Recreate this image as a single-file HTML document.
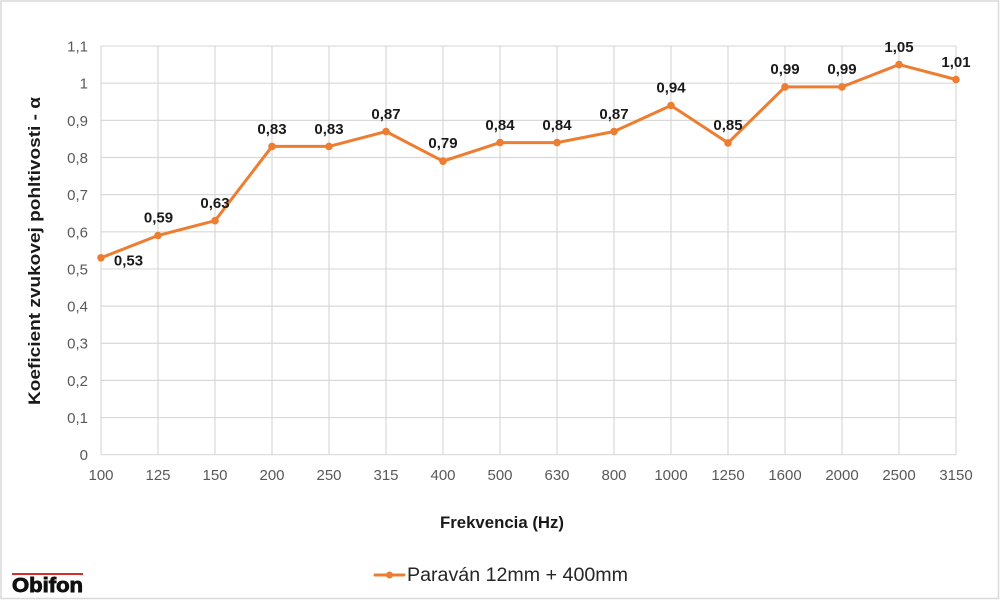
<!DOCTYPE html>
<html>
<head>
<meta charset="utf-8">
<style>
html,body{margin:0;padding:0;background:#fff;}
svg{display:block;}
text{font-family:"Liberation Sans",Arial,sans-serif;}
</style>
</head>
<body>
<svg width="1000" height="600" viewBox="0 0 1000 600" xmlns="http://www.w3.org/2000/svg">
<rect x="0" y="0" width="1000" height="600" fill="#fff"/>
<rect x="1" y="1" width="997.5" height="597.5" fill="none" stroke="#d9d9d9" stroke-width="1.5"/>

<!-- horizontal gridlines -->
<g stroke="#d9d9d9" stroke-width="1.2">
<line x1="101" x2="956" y1="454.7" y2="454.7"/>
<line x1="101" x2="956" y1="417.55" y2="417.55"/>
<line x1="101" x2="956" y1="380.4" y2="380.4"/>
<line x1="101" x2="956" y1="343.25" y2="343.25"/>
<line x1="101" x2="956" y1="306.1" y2="306.1"/>
<line x1="101" x2="956" y1="268.95" y2="268.95"/>
<line x1="101" x2="956" y1="231.8" y2="231.8"/>
<line x1="101" x2="956" y1="194.65" y2="194.65"/>
<line x1="101" x2="956" y1="157.5" y2="157.5"/>
<line x1="101" x2="956" y1="120.35" y2="120.35"/>
<line x1="101" x2="956" y1="83.2" y2="83.2"/>
<line x1="101" x2="956" y1="46.05" y2="46.05"/>
</g>
<!-- vertical gridlines -->
<g stroke="#d9d9d9" stroke-width="1.2">
<line y1="46" y2="455" x1="101" x2="101"/>
<line y1="46" y2="455" x1="158" x2="158"/>
<line y1="46" y2="455" x1="215" x2="215"/>
<line y1="46" y2="455" x1="272" x2="272"/>
<line y1="46" y2="455" x1="329" x2="329"/>
<line y1="46" y2="455" x1="386" x2="386"/>
<line y1="46" y2="455" x1="443" x2="443"/>
<line y1="46" y2="455" x1="500" x2="500"/>
<line y1="46" y2="455" x1="557" x2="557"/>
<line y1="46" y2="455" x1="614" x2="614"/>
<line y1="46" y2="455" x1="671" x2="671"/>
<line y1="46" y2="455" x1="728" x2="728"/>
<line y1="46" y2="455" x1="785" x2="785"/>
<line y1="46" y2="455" x1="842" x2="842"/>
<line y1="46" y2="455" x1="899" x2="899"/>
<line y1="46" y2="455" x1="956" x2="956"/>
</g>

<!-- y tick labels -->
<g fill="#595959" font-size="15" text-anchor="end">
<text x="88" y="460.2">0</text>
<text x="88" y="423">0,1</text>
<text x="88" y="385.9">0,2</text>
<text x="88" y="348.7">0,3</text>
<text x="88" y="311.6">0,4</text>
<text x="88" y="274.4">0,5</text>
<text x="88" y="237.3">0,6</text>
<text x="88" y="200.1">0,7</text>
<text x="88" y="163">0,8</text>
<text x="88" y="125.8">0,9</text>
<text x="88" y="88.7">1</text>
<text x="88" y="51.5">1,1</text>
</g>

<!-- x tick labels -->
<g fill="#595959" font-size="15" text-anchor="middle">
<text x="101" y="480">100</text>
<text x="158" y="480">125</text>
<text x="215" y="480">150</text>
<text x="272" y="480">200</text>
<text x="329" y="480">250</text>
<text x="386" y="480">315</text>
<text x="443" y="480">400</text>
<text x="500" y="480">500</text>
<text x="557" y="480">630</text>
<text x="614" y="480">800</text>
<text x="671" y="480">1000</text>
<text x="728" y="480">1250</text>
<text x="785" y="480">1600</text>
<text x="842" y="480">2000</text>
<text x="899" y="480">2500</text>
<text x="956" y="480">3150</text>
</g>

<!-- axis titles -->
<text x="440" y="528" font-size="17" font-weight="bold" fill="#1a1a1a" textLength="124" lengthAdjust="spacingAndGlyphs">Frekvencia (Hz)</text>
<text transform="translate(40,251) rotate(-90)" x="0" y="0" text-anchor="middle" font-size="16.5" font-weight="bold" fill="#1a1a1a" textLength="308" lengthAdjust="spacingAndGlyphs">Koeficient zvukovej pohltivosti - α</text>

<!-- series -->
<polyline fill="none" stroke="#ED7D31" stroke-width="3" stroke-linejoin="round" stroke-linecap="round"
points="101,257.8 158,235.5 215,220.7 272,146.4 329,146.4 386,131.5 443,161.2 500,142.6 557,142.6 614,131.5 671,105.5 728,142.9 785,86.9 842,86.9 899,64.6 956,79.5"/>
<g fill="#ED7D31">
<circle cx="101" cy="257.8" r="3.8"/>
<circle cx="158" cy="235.5" r="3.8"/>
<circle cx="215" cy="220.7" r="3.8"/>
<circle cx="272" cy="146.4" r="3.8"/>
<circle cx="329" cy="146.4" r="3.8"/>
<circle cx="386" cy="131.5" r="3.8"/>
<circle cx="443" cy="161.2" r="3.8"/>
<circle cx="500" cy="142.6" r="3.8"/>
<circle cx="557" cy="142.6" r="3.8"/>
<circle cx="614" cy="131.5" r="3.8"/>
<circle cx="671" cy="105.5" r="3.8"/>
<circle cx="728" cy="142.9" r="3.8"/>
<circle cx="785" cy="86.9" r="3.8"/>
<circle cx="842" cy="86.9" r="3.8"/>
<circle cx="899" cy="64.6" r="3.8"/>
<circle cx="956" cy="79.5" r="3.8"/>
</g>

<!-- data labels -->
<g fill="#1a1a1a" font-size="15" font-weight="bold" text-anchor="middle">
<text x="128.5" y="265.5">0,53</text>
<text x="158.5" y="222.5">0,59</text>
<text x="215" y="208">0,63</text>
<text x="272" y="134">0,83</text>
<text x="329" y="134">0,83</text>
<text x="386" y="119">0,87</text>
<text x="443" y="148">0,79</text>
<text x="500" y="130">0,84</text>
<text x="557" y="130">0,84</text>
<text x="614" y="119">0,87</text>
<text x="671" y="92.5">0,94</text>
<text x="728" y="130">0,85</text>
<text x="785" y="74">0,99</text>
<text x="842" y="74">0,99</text>
<text x="899" y="52">1,05</text>
<text x="956" y="67">1,01</text>
</g>

<!-- legend -->
<line x1="375" y1="575" x2="404" y2="575" stroke="#ED7D31" stroke-width="3" stroke-linecap="round"/>
<circle cx="389.5" cy="575" r="3.5" fill="#ED7D31"/>
<text x="407" y="581" font-size="19" fill="#262626" textLength="221" lengthAdjust="spacingAndGlyphs">Paraván 12mm + 400mm</text>

<!-- logo -->
<line x1="12" y1="574" x2="83" y2="574" stroke="#d42b2b" stroke-width="2"/>
<text x="12" y="592" font-size="20.5" font-weight="bold" fill="#111" stroke="#111" stroke-width="0.9" textLength="71" lengthAdjust="spacingAndGlyphs">Obifon</text>
</svg>
</body>
</html>
